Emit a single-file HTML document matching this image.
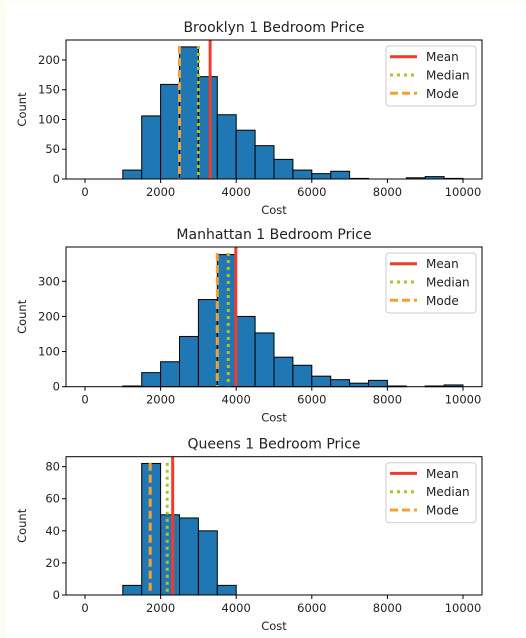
<!DOCTYPE html>
<html><head><meta charset="utf-8"><style>
body{margin:0;background:#fefdf2;}
svg{display:block;font-family:"DejaVu Sans","Liberation Sans",sans-serif;}
</style></head><body>
<svg id="fig" width="526" height="638" viewBox="0 0 526 638" xmlns="http://www.w3.org/2000/svg">
<rect x="6" y="2" width="520" height="636" fill="#ffffff"/>
</svg>
<script>
const binEdgesStart = 0, binWidth = 500;
const xTicks = [0, 2000, 4000, 6000, 8000, 10000];
const titles = ["Brooklyn 1 Bedroom Price", "Manhattan 1 Bedroom Price", "Queens 1 Bedroom Price"];
const brooklynCounts = [0,0,15,106,159,222,172,108,82,56,33,15,9,13,1,0,0,2,4,1];
const manhattanCounts = [0,0,2,40,71,143,248,376,200,153,84,61,30,20,10,18,2,0,2,5];
const queensCounts = [0,0,6,82,50,48,40,6,0,0,0,0,0,0,0,0,0,0,0,0];
const brooklynStats = [3310, 3000, 2500];
const manhattanStats = [3990, 3790, 3500];
const queensStats = [2320, 2175, 1725];
const brooklynYTicks = [0,50,100,150,200];
const manhattanYTicks = [0,100,200,300];
const queensYTicks = [0,20,40,60,80];
const yMaxes = [233.6, 397.6, 86.2];

const NS = "http://www.w3.org/2000/svg";
const svg = document.getElementById('fig');
function mk(tag, attrs, parent){const e=document.createElementNS(NS,tag);for(const k in attrs)e.setAttribute(k,attrs[k]);(parent||svg).appendChild(e);return e;}

function drawChart(idx, top, bottom, counts, stats, yTicks, yMax){
  const L=66,R=482;
  const g=mk('g',{});
  
  
  const xs=v=>85+(v/10000)*378;
  const ys=v=>bottom-(v/yMax)*(bottom-top);
  counts.forEach((c,i)=>{
    const x0=xs(binEdgesStart+i*binWidth), x1=xs(binEdgesStart+(i+1)*binWidth);
    const r=mk('rect',{x:x0,y:ys(c),width:x1-x0,height:bottom-ys(c),fill:'#1f77b4',stroke:'#000','stroke-width':1},g);
    
    
  });
  const styles=[['#f03c2a','',3],['#bcbd22','3,4',3],['#f5a030','8,4',3]];
  const names=['mean-line','median-line','mode-line'];
  stats.forEach((s,i)=>{
    const l=mk('line',{x1:xs(s),x2:xs(s),y1:top+6,y2:bottom,stroke:styles[i][0],'stroke-width':styles[i][2],'stroke-dasharray':styles[i][1]},g);
    if(i==0){l.setAttribute('y1',top);}
    
    
  });
  const f=mk('rect',{x:L,y:top,width:R-L,height:bottom-top,fill:'none',stroke:'#000','stroke-width':1},g);
  
  
  xTicks.forEach(t=>{
    mk('line',{x1:xs(t),x2:xs(t),y1:bottom,y2:bottom+4,stroke:'#000'},g);
    const tx=mk('text',{x:xs(t),y:bottom+17,'font-size':11.5,'text-anchor':'middle',fill:'#222'},g);
    tx.textContent=t;
    
    
  });
  yTicks.forEach(t=>{
    mk('line',{x1:L-4,x2:L,y1:ys(t),y2:ys(t),stroke:'#000'},g);
    const tx=mk('text',{x:L-6,y:ys(t)+4,'font-size':11.5,'text-anchor':'end',fill:'#222'},g);
    tx.textContent=t;
    
    
  });
  const ti=mk('text',{x:(L+R)/2,y:top-8,'font-size':14,'text-anchor':'middle',fill:'#222'},g);
  ti.textContent=titles[idx];
  
  
  const xl=mk('text',{x:(L+R)/2,y:bottom+35,'font-size':11.5,'text-anchor':'middle',fill:'#222'},g);
  xl.textContent='Cost';
  
  
  const yl=mk('text',{x:0,y:0,'font-size':11.5,'text-anchor':'middle',fill:'#222',transform:`translate(26,${(top+bottom)/2}) rotate(-90)`},g);
  yl.textContent='Count';
  
  
  const lg=mk('g',{},g);
  
  
  mk('rect',{x:386,y:top+6,width:90,height:60,rx:3,fill:'#fff','fill-opacity':0.85,stroke:'#ccc'},lg);
  ['Mean','Median','Mode'].forEach((n,i)=>{
    const yy=top+16.7+i*18.3;
    mk('line',{x1:390,x2:417,y1:yy,y2:yy,stroke:styles[i][0],'stroke-width':3,'stroke-dasharray':styles[i][1]},lg);
    const t=mk('text',{x:426,y:yy+4.5,'font-size':12,fill:'#222'},lg);
    t.textContent=n;
    
    
  });
}
drawChart(0,40,179,brooklynCounts,brooklynStats,brooklynYTicks,yMaxes[0]);
drawChart(1,247,386.7,manhattanCounts,manhattanStats,manhattanYTicks,yMaxes[1]);
drawChart(2,456.7,595,queensCounts,queensStats,queensYTicks,yMaxes[2]);
</script>
</body></html>
